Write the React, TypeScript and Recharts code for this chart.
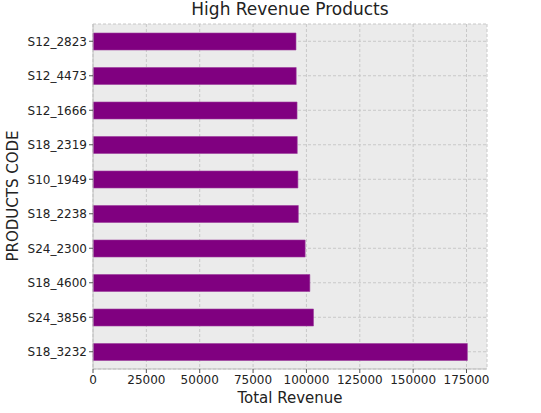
import { BarChart, Bar, XAxis, YAxis, CartesianGrid } from "recharts";

const codes = [
  "S12_2823",
  "S12_4473",
  "S12_1666",
  "S18_2319",
  "S10_1949",
  "S18_2238",
  "S24_2300",
  "S18_4600",
  "S24_3856",
  "S18_3232",
];
const revenue = [95100, 95200, 95600, 95700, 96000, 96200, 99400, 101600, 103300, 175400];
const xTicks = [0, 25000, 50000, 75000, 100000, 125000, 150000, 175000];

const data = codes.map((code, i) => ({ code, revenue: revenue[i] }));

const font = "DejaVu Sans, sans-serif";

export default function App() {
  return (
    <div style={{ position: "absolute", left: 0, top: 0, width: 541, height: 413, background: "#fff", fontFamily: font }}>
      <div style={{ position: "absolute", top: -1, left: 93, width: 394, textAlign: "center", fontSize: 17, color: "#222" }}>
        High Revenue Products
      </div>
      <div
        style={{
          position: "absolute",
          left: 13,
          top: 196,
          transform: "translate(-50%, -50%) rotate(-90deg)",
          fontSize: 15,
          color: "#222",
          whiteSpace: "nowrap",
        }}
      >
        PRODUCTS CODE
      </div>
      <div style={{ position: "absolute", top: 389, left: 93, width: 394, textAlign: "center", fontSize: 15, color: "#222" }}>
        Total Revenue
      </div>
      <BarChart
        width={541}
        height={413}
        data={data}
        layout="vertical"
        margin={{ top: 24, right: 54, left: 10, bottom: 20 }}
        barCategoryGap={0}
      >
        <CartesianGrid stroke="#c8c8c8" strokeDasharray="3 2" fill="#ebebeb" />
        <XAxis
          type="number"
          domain={[0, 184600]}
          ticks={xTicks}
          height={24}
          tick={{ fill: "#222", fontSize: 12, fontFamily: font }}
          tickLine={{ stroke: "#555" }}
          axisLine={{ stroke: "#bdbdbd" }}
          tickSize={4}
        />
        <YAxis
          type="category"
          dataKey="code"
          width={83}
          tick={{ fill: "#222", fontSize: 12, fontFamily: font }}
          tickLine={{ stroke: "#555" }}
          axisLine={{ stroke: "#bdbdbd" }}
          tickSize={4}
        />
        <Bar dataKey="revenue" fill="#800080" stroke="#9a3a9a" strokeWidth={0.6} barSize={17} isAnimationActive={false} />
      </BarChart>
    </div>
  );
}
